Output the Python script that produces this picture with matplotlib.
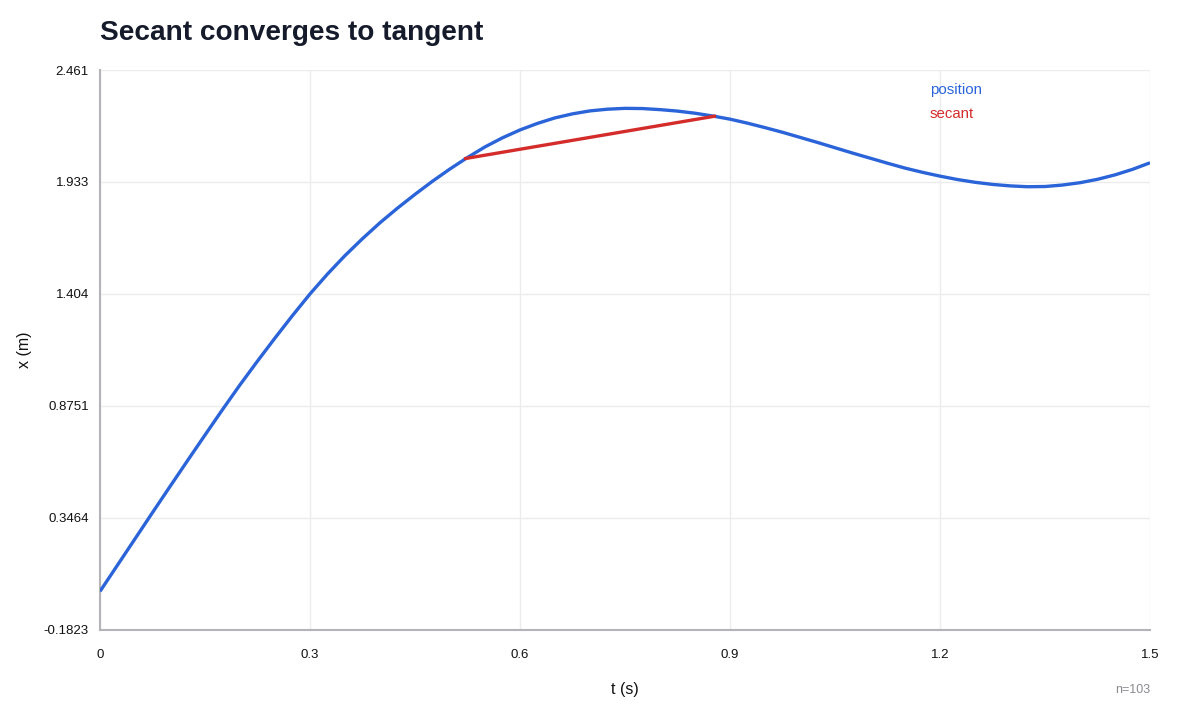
import matplotlib
matplotlib.use("Agg")
import matplotlib.pyplot as plt

# ---- data ----
t_values = [0.000, 0.025, 0.050, 0.075, 0.100, 0.125, 0.150, 0.175, 0.200, 0.225,
            0.250, 0.275, 0.300, 0.325, 0.350, 0.375, 0.400, 0.425, 0.450, 0.475,
            0.500, 0.525, 0.550, 0.575, 0.600, 0.625, 0.650, 0.675, 0.700, 0.725,
            0.750, 0.775, 0.800, 0.825, 0.850, 0.875, 0.900, 0.925, 0.950, 0.975,
            1.000, 1.025, 1.050, 1.075, 1.100, 1.125, 1.150, 1.175, 1.200, 1.225,
            1.250, 1.275, 1.300, 1.325, 1.350, 1.375, 1.400, 1.425, 1.450, 1.475,
            1.500]
position = [0.000, 0.124, 0.248, 0.372, 0.495, 0.617, 0.738, 0.858, 0.975, 1.087,
            1.196, 1.302, 1.404, 1.498, 1.585, 1.665, 1.740, 1.809, 1.874, 1.936,
            1.994, 2.048, 2.098, 2.141, 2.178, 2.209, 2.235, 2.254, 2.268, 2.276,
            2.280, 2.279, 2.274, 2.267, 2.257, 2.244, 2.229, 2.210, 2.189, 2.167,
            2.143, 2.119, 2.094, 2.069, 2.045, 2.021, 1.998, 1.978, 1.960, 1.944,
            1.931, 1.921, 1.914, 1.910, 1.911, 1.918, 1.929, 1.945, 1.966, 1.992,
            2.023]
secant_t = [0.52, 0.88]
secant_x = [2.042, 2.244]

x_ticks = [0, 0.3, 0.6, 0.9, 1.2, 1.5]
x_tick_labels = ["0", "0.3", "0.6", "0.9", "1.2", "1.5"]
y_ticks = [-0.1823, 0.3464, 0.8751, 1.404, 1.933, 2.461]
y_tick_labels = ["-0.1823", "0.3464", "0.8751", "1.404", "1.933", "2.461"]

title = "Secant converges to tangent"
series_names = ["position", "secant"]
n_label = "n=103"

BLUE = "#2a64d8"
RED = "#d42b2b"

plt.rcParams['font.family'] = ['Liberation Sans', 'DejaVu Sans']

fig = plt.figure(figsize=(12, 7.2), dpi=100)
ax = fig.add_axes([100/1200, 90/720, 1050/1200, 560/720])

ax.plot(t_values, position, color=BLUE, lw=2.4, solid_joinstyle='round',
        solid_capstyle='butt', zorder=3)
ax.plot(secant_t, secant_x, color=RED, lw=2.4, solid_capstyle='butt', zorder=4)

ax.set_xlim(0, 1.5)
ax.set_ylim(y_ticks[0], y_ticks[-1])
ax.set_xticks(x_ticks)
ax.set_xticklabels(x_tick_labels)
ax.set_yticks(y_ticks)
ax.set_yticklabels(y_tick_labels)
ax.tick_params(axis='both', length=0, labelsize=9.5, colors='#111111')
ax.tick_params(axis='x', pad=14)
ax.tick_params(axis='y', pad=8)

ax.grid(True, color='#ececec', lw=1.0, zorder=0)
for s in ['top', 'right']:
    ax.spines[s].set_visible(False)
for s in ['left', 'bottom']:
    ax.spines[s].set_color('#b4b4b8')
    ax.spines[s].set_linewidth(1.5)

ax.set_xlabel("t (s)", fontsize=11.5, color='#111111')
ax.set_ylabel("x (m)", fontsize=11.5, color='#111111')
ax.xaxis.set_label_coords(0.5, -(682 - 630) / 560)
ax.yaxis.set_label_coords(-(100 - 32) / 1050, 0.5)

fig.text(100/1200, 1 - 33/720, title, fontsize=20.2, fontweight='bold',
         color='#161b2b', ha='left', va='center')

fig.text(930/1200, 1 - 90/720, series_names[0], color=BLUE, fontsize=10.8,
         ha='left', va='center')
fig.text(930/1200, 1 - 114/720, series_names[1], color=RED, fontsize=10.8,
         ha='left', va='center')

fig.text(1150/1200, 1 - 690/720, n_label, color='#8a8a90', fontsize=9,
         ha='right', va='center')

fig.savefig("out.png", dpi=100, facecolor='white')
